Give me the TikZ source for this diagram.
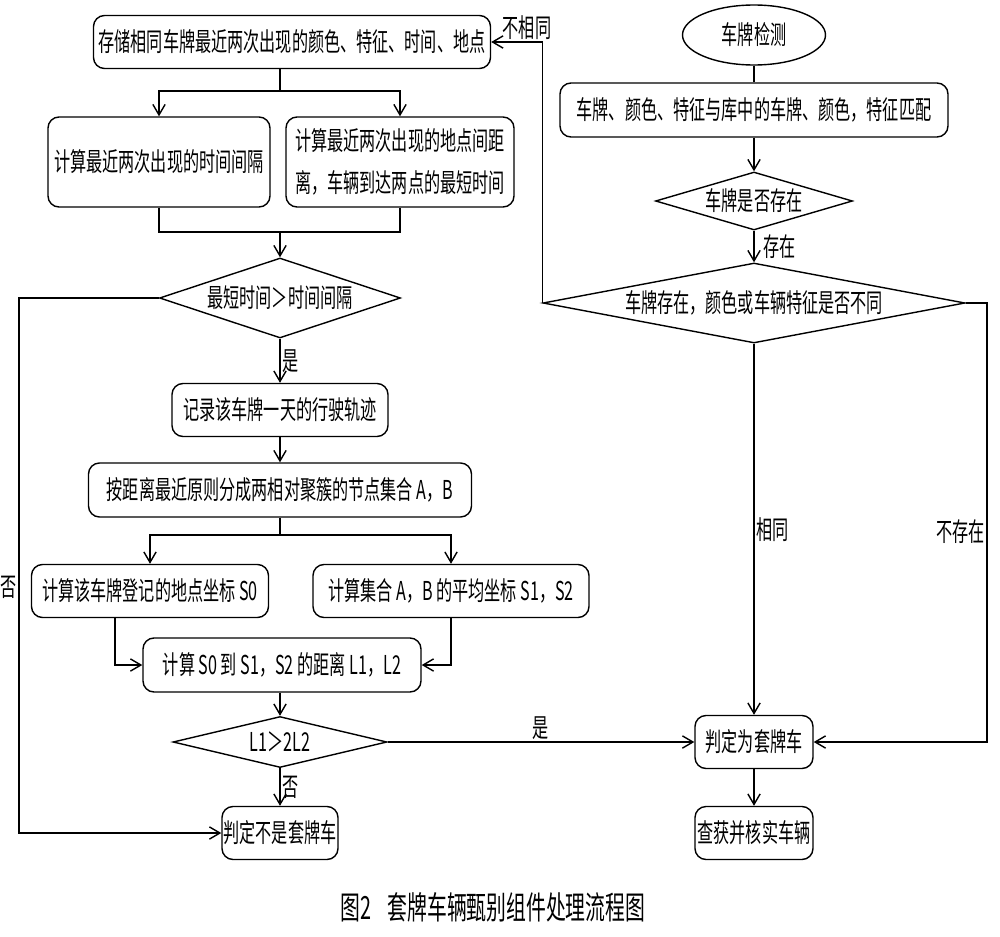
\documentclass[tikz,border=0pt]{standalone}
\usepackage{fontspec}
\setmainfont{Noto Sans CJK SC}[FakeStretch=0.62]
\usetikzlibrary{shapes.geometric,arrows.meta}

\tikzset{
    proc/.style 2 args={draw,rounded corners=0.22cm,align=center,inner sep=0pt,
        minimum width=#1*0.02cm,minimum height=#2*0.02cm},
    deci/.style n args={3}{draw,diamond,aspect=#3,inner sep=0pt,
        minimum width=#1*0.02cm,minimum height=#2*0.02cm},
    lab/.style={inner sep=1pt}
}

\begin{document}
\begin{tikzpicture}[x=0.02cm,y=-0.02cm,line width=0.8pt,
        >={Straight Barb[length=6pt,width=7pt]},
        font=\fontsize{14.8}{24}\selectfont]
        \useasboundingbox (0,0) rectangle (1000,936);

        \node[proc={397}{53}] (store) at (292,42) {存储相同车牌最近两次出现的颜色、特征、时间、地点};
        \node[proc={222}{90}] (gap) at (159,162) {计算最近两次出现的时间间隔};
        \node[proc={228}{90}] (mint) at (400,162) {计算最近两次出现的地点间距\\离，车辆到达两点的最短时间};
        \node[deci={241}{80}{3}] (dmax) at (280,298) {最短时间＞时间间隔};
        \node[proc={216}{53}] (track) at (280,410) {记录该车牌一天的行驶轨迹};
        \node[proc={383}{54}] (clus) at (280,490) {按距离最近原则分成两相对聚簇的节点集合 A，B};
        \node[proc={237}{53}] (szero) at (150,591) {计算该车牌登记的地点坐标 S0};
        \node[proc={276}{53}] (sab) at (451,591) {计算集合 A，B 的平均坐标 S1，S2};
        \node[proc={278}{54}] (dist) at (282,665) {计算 S0 到 S1，S2 的距离 L1，L2};
        \node[deci={214}{51}{4.2}] (dl) at (280,742) {L1＞2L2};
        \node[proc={116}{53}] (nofake) at (280,833) {判定不是套牌车};

        \node[draw,ellipse,inner sep=0pt,minimum width=143*0.02cm,minimum height=60*0.02cm] (det) at (754,35) {车牌检测};
        \node[proc={388}{54}] (match) at (754,110) {车牌、颜色、特征与库中的车牌、颜色，特征匹配};
        \node[deci={197}{58}{3.4}] (dex) at (754,201) {车牌是否存在};
        \node[deci={422}{80}{5.3}] (ddif) at (754,303) {车牌存在，颜色或车辆特征是否不同};
        \node[proc={118}{53}] (fake) at (754,742) {判定为套牌车};
        \node[proc={118}{53}] (chk) at (754,833) {查获并核实车辆};

        \node[font=\fontsize{18.2}{20}\selectfont] (cap) at (493,907) {图2\enspace 套牌车辆甄别组件处理流程图};

        \coordinate (sa) at (280,91);
        \coordinate (ma) at (280,232);
        \coordinate (sb) at (280,535);
        \coordinate (sc) at (115,666);
        \coordinate (la) at (19,298);
        \coordinate (rb) at (987,303);

        \draw (store.south -| sa) -- (sa);
        \draw[->] (sa) -| (gap.north);
        \draw[->] (sa) -| (mint.north);
        \draw (gap.south) |- (ma);
        \draw (mint.south) |- (ma);
        \draw[->] (ma) -- (dmax.north);
        \draw[->] (dmax.south) -- node[right,lab] {是} (track.north);
        \draw[->] (track) -- (clus);
        \draw (clus.south) -- (sb);
        \draw[->] (sb) -| (szero.north);
        \draw[->] (sb) -| (sab.north);
        \draw[->] (szero.south -| sc) |- (dist.west);
        \draw[->] (sab.south) |- (dist.east);
        \draw[->] (dist.south -| dl.north) -- (dl.north);
        \draw[->] (dl.south) -- node[right,lab] {否} (nofake.north);
        \draw[->] (dl.east) -- node[above,lab] {是} (fake.west);
        \draw[->] (dmax.west) -- (la) |- node[pos=0.27,left,lab] {否} (nofake.west);

        \draw (det) -- (match);
        \draw[->] (match) -- (dex);
        \draw[->] (dex) -- node[right=4pt,lab] {存在} (ddif);
        \draw[->] (ddif) -- node[right,lab] {相同} (fake);
        \draw[->] (ddif.west) -- (ddif.west |- store.east) -- node[pos=0.3,above,lab] {不相同} (store.east);
        \draw[->] (ddif.east) -- (rb) |- node[pos=0.26,left,lab] {不存在} (fake.east);
        \draw[->] (fake) -- (chk);
    \end{tikzpicture}
\end{document}
